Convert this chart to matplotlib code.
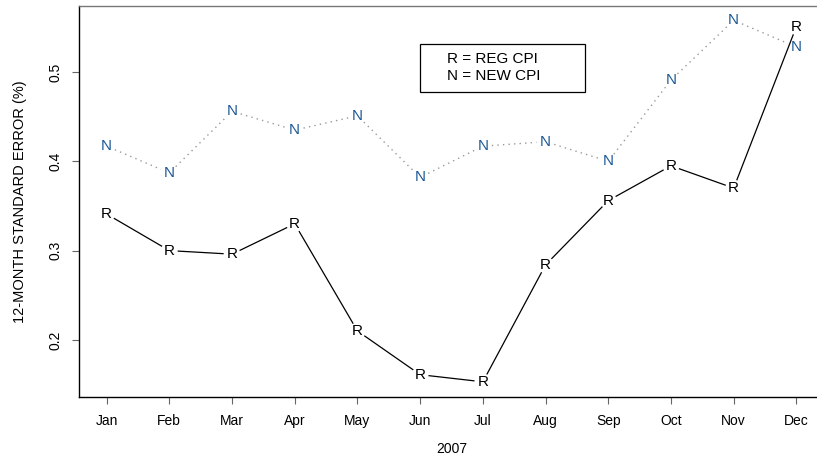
import numpy as np
import matplotlib.pyplot as plt

plt.rcParams['font.family'] = ['Liberation Sans', 'DejaVu Sans']

months = ["Jan", "Feb", "Mar", "Apr", "May", "Jun",
          "Jul", "Aug", "Sep", "Oct", "Nov", "Dec"]
reg_cpi = [0.341, 0.300, 0.296, 0.330, 0.210, 0.161,
           0.153, 0.284, 0.356, 0.395, 0.370, 0.551]
new_cpi = [0.417, 0.387, 0.456, 0.435, 0.451, 0.382,
           0.417, 0.422, 0.400, 0.491, 0.558, 0.528]

x = np.arange(1, len(months) + 1)

fig = plt.figure(figsize=(8.17, 4.58), dpi=100)
ax = fig.add_axes([79/817, 1 - 397/458, 745/817, 391/458])
ax.set_xlim(0.56, 12.44)
ax.set_ylim(0.136, 0.574)


def gapped(xs, ys, gap_px, **kw):
    # type="b" style: segments stop short of the plotted letters
    pts = ax.transData.transform(np.column_stack([xs, ys]))
    inv = ax.transData.inverted()
    for p0, p1 in zip(pts[:-1], pts[1:]):
        d = p1 - p0
        n = np.hypot(*d)
        if n <= 2 * gap_px:
            continue
        u = d / n
        a = inv.transform(p0 + u * gap_px)
        b = inv.transform(p1 - u * gap_px)
        ax.plot([a[0], b[0]], [a[1], b[1]], **kw)


gapped(x, reg_cpi, 9, color="black", lw=0.9)
gapped(x, new_cpi, 9, color="#999999", lw=1.0, linestyle=(0, (1, 3)))

for xi, r, n in zip(x, reg_cpi, new_cpi):
    ax.text(xi, r, "R", ha="center", va="center", fontsize=11, color="black")
    ax.text(xi, n, "N", ha="center", va="center", fontsize=11, color="#1f5a96")

ax.set_xticks(x)
ax.set_xticklabels(months, fontsize=10)
ax.set_yticks([0.2, 0.3, 0.4, 0.5])
ax.set_yticklabels(["0.2", "0.3", "0.4", "0.5"], fontsize=10, rotation=90, va="center")
ax.tick_params(direction="out", length=5, color="#666666", width=0.8, pad=7)
for s in ax.spines.values():
    s.set_linewidth(1.0)
ax.spines["top"].set_color("#777777")
ax.spines["right"].set_visible(False)

ax.set_xlabel("2007", fontsize=10, labelpad=10)
ax.set_ylabel("12-MONTH STANDARD ERROR (%)", fontsize=10.5, labelpad=15)

# key box
fig.patches.append(plt.Rectangle((420/817, 1 - 92/458), 165/817, 48/458,
                                 transform=fig.transFigure, fill=False,
                                 edgecolor="black", lw=0.9))
fig.text(447/817, 1 - 59/458, "R = REG CPI", fontsize=11, va="center")
fig.text(447/817, 1 - 76/458, "N = NEW CPI", fontsize=11, va="center")

fig.savefig("out.png", dpi=100)
